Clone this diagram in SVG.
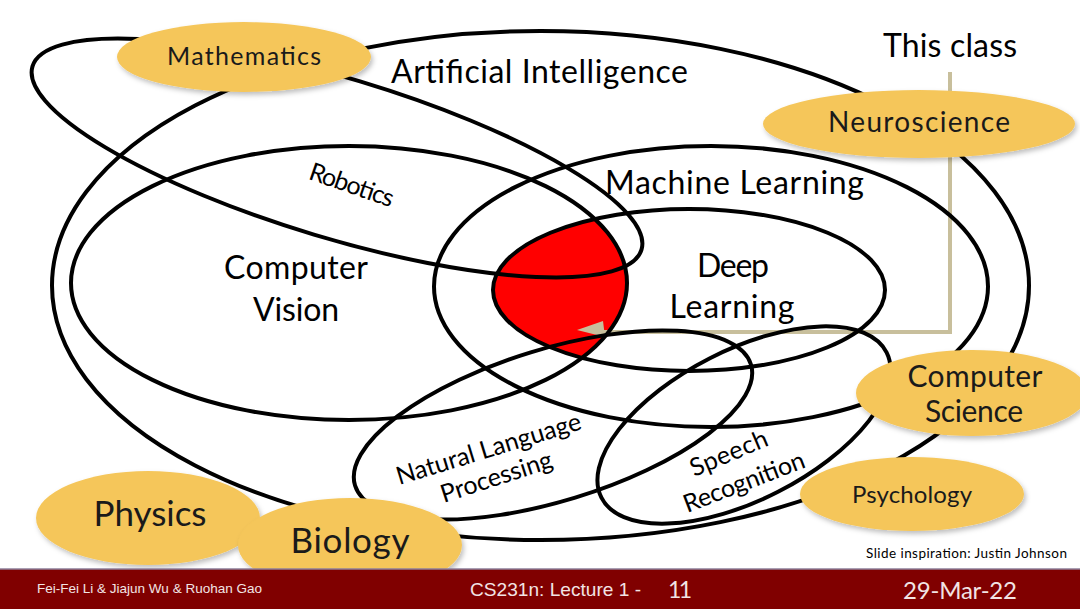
<svg xmlns="http://www.w3.org/2000/svg" width="1080" height="609" viewBox="0 0 1080 609">
  <style>
    .ring { fill: none; stroke: #000; stroke-width: 4; }
    .lbl { font-family: Lato, "Open Sans", sans-serif; fill: #000; }
    .big { font-size: 32px; }
    .small { font-size: 25px; }
    .pill { fill: #f5c65a; filter: url(#shadow); }
    .plbl { font-family: Lato, "Open Sans", sans-serif; fill: #1a1a1a; }
    .foot { font-family: "Liberation Sans", Arial, sans-serif; fill: #f2e4e4; }
    .footc { font-family: Lato, "Open Sans", sans-serif; fill: #f2e4e4; }
  </style>
  <defs>
    <filter id="shadow" x="-20%" y="-30%" width="140%" height="170%">
      <feDropShadow dx="2" dy="3" stdDeviation="2.5" flood-color="#000" flood-opacity="0.25"/>
    </filter>
    <clipPath id="cvClip">
      <ellipse cx="349" cy="283" rx="278" ry="137"/>
    </clipPath>
  </defs>

  <rect x="0" y="0" width="1080" height="609" fill="#fff"/>

  <!-- red intersection: Deep Learning ∩ Computer Vision -->
  <g id="this-class-region">
    <ellipse cx="689" cy="290" rx="196" ry="81" fill="#ff0000" clip-path="url(#cvClip)"/>
  </g>

  <!-- connectors -->
  <g id="connectors">
    <polyline points="950,72 950,332 600,332" fill="none" stroke="#c8bf9c" stroke-width="4"/>
    <polygon points="577,330 603,321 605,337" fill="#c8bf9c"/>
  </g>

  <!-- field ellipses -->
  <g id="artificial-intelligence">
    <ellipse class="ring" cx="540.5" cy="285.5" rx="488.5" ry="254.5"/>
    <text class="lbl big" x="539.5" y="83" text-anchor="middle" textLength="297">Artificial Intelligence</text>
  </g>
  <g id="math-loop">
    <ellipse class="ring" cx="337" cy="158" rx="318" ry="80" transform="rotate(16.75 337 158)"/>
  </g>
  <g id="computer-vision">
    <ellipse class="ring" cx="349" cy="283" rx="278" ry="137"/>
    <text class="lbl big" x="296" y="279" text-anchor="middle" textLength="144">Computer</text>
    <text class="lbl big" x="296" y="321" text-anchor="middle" textLength="86">Vision</text>
  </g>
  <g id="robotics">
    <text class="lbl small" x="0" y="0" text-anchor="middle" textLength="88" transform="translate(349 193) rotate(19)">Robotics</text>
  </g>
  <g id="machine-learning">
    <ellipse class="ring" cx="711" cy="286.5" rx="277" ry="140.5"/>
    <text class="lbl big" x="734.5" y="194" text-anchor="middle" textLength="259">Machine Learning</text>
  </g>
  <g id="deep-learning">
    <ellipse class="ring" cx="689" cy="290" rx="196" ry="81"/>
    <text class="lbl big" x="733" y="277" text-anchor="middle" textLength="72">Deep</text>
    <text class="lbl big" x="732" y="318" text-anchor="middle" textLength="125">Learning</text>
  </g>
  <g id="nlp">
    <ellipse class="ring" cx="553" cy="425" rx="207" ry="76" transform="rotate(-17 553 425)"/>
    <text class="lbl small" x="0" y="0" text-anchor="middle" textLength="192" transform="translate(491 457) rotate(-17)">Natural Language</text>
    <text class="lbl small" x="0" y="0" text-anchor="middle" textLength="116" transform="translate(499 485) rotate(-18)">Processing</text>
  </g>
  <g id="speech-recognition">
    <ellipse class="ring" cx="744" cy="425" rx="160" ry="75" transform="rotate(-27 744 425)"/>
    <text class="lbl small" x="0" y="0" text-anchor="middle" textLength="82" transform="translate(732 461) rotate(-23)">Speech</text>
    <text class="lbl small" x="0" y="0" text-anchor="middle" textLength="128" transform="translate(747 490) rotate(-21)">Recognition</text>
  </g>

  <g id="this-class">
    <text class="lbl" x="950" y="57" font-size="32" text-anchor="middle" textLength="134">This class</text>
  </g>

  <!-- discipline pills -->
  <g id="mathematics">
    <ellipse class="pill" cx="244" cy="57" rx="127" ry="35"/>
    <text class="plbl" x="244" y="65" font-size="25" text-anchor="middle" textLength="154">Mathematics</text>
  </g>
  <g id="neuroscience">
    <ellipse class="pill" cx="919" cy="124" rx="156" ry="34"/>
    <text class="plbl" x="919" y="132" font-size="28" text-anchor="middle" textLength="182">Neuroscience</text>
  </g>
  <g id="computer-science">
    <ellipse class="pill" cx="972" cy="393" rx="116" ry="43"/>
    <text class="plbl" x="975" y="387" font-size="30" text-anchor="middle" textLength="135">Computer</text>
    <text class="plbl" x="974" y="422" font-size="30" text-anchor="middle" textLength="98">Science</text>
  </g>
  <g id="psychology">
    <ellipse class="pill" cx="912" cy="494" rx="112" ry="37"/>
    <text class="plbl" x="912" y="503" font-size="24" text-anchor="middle" textLength="120">Psychology</text>
  </g>
  <g id="physics">
    <ellipse class="pill" cx="148" cy="518" rx="112" ry="47"/>
    <text class="plbl" x="150" y="526" font-size="35" text-anchor="middle" textLength="113">Physics</text>
  </g>
  <g id="biology">
    <ellipse class="pill" cx="350" cy="545" rx="112" ry="47"/>
    <text class="plbl" x="350" y="553" font-size="35" text-anchor="middle" textLength="119">Biology</text>
  </g>

  <text class="lbl" x="1067" y="558" font-size="13.5" text-anchor="end" textLength="201" fill="#222">Slide inspiration: Justin Johnson</text>

  <!-- footer -->
  <g id="footer">
    <rect x="0" y="569" width="1080" height="40" fill="#800000"/>
    <line x1="0" y1="569" x2="1080" y2="569" stroke="#8e7f9a" stroke-width="1.5"/>
    <text class="foot" x="37" y="593" font-size="13" textLength="225" lengthAdjust="spacingAndGlyphs">Fei-Fei Li &amp; Jiajun Wu &amp; Ruohan Gao</text>
    <text class="foot" x="470" y="596" font-size="19" textLength="171" lengthAdjust="spacingAndGlyphs">CS231n: Lecture 1 -</text>
    <text class="footc" x="668" y="598" font-size="23" textLength="24">11</text>
    <text class="footc" x="903" y="599" font-size="24" textLength="114">29-Mar-22</text>
  </g>
</svg>
